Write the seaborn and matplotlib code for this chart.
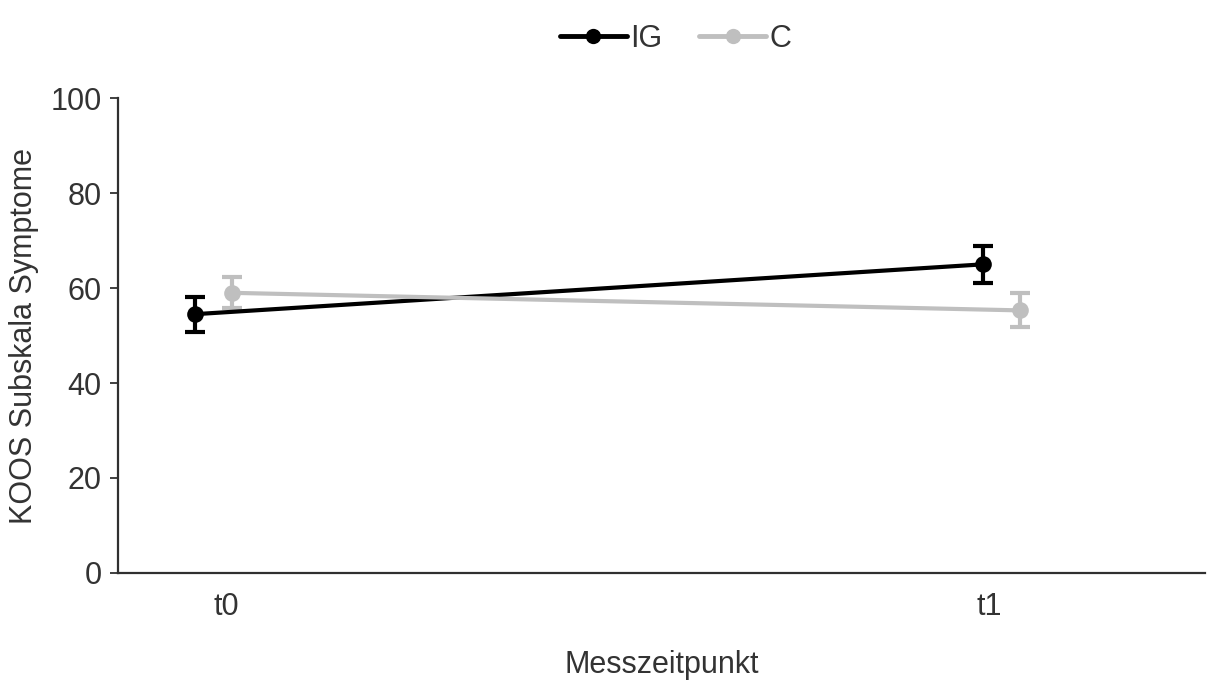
import matplotlib
matplotlib.use("Agg")
import matplotlib.pyplot as plt
import seaborn as sns
import pandas as pd
import numpy as np
from matplotlib.lines import Line2D

# Data
timepoints = ["t0", "t1"]
groups = ["IG", "C"]
ig_means = [54.5, 65.0]
ig_err = [3.7, 3.9]
c_means = [59.0, 55.3]
c_err = [3.3, 3.6]

sns.set_theme(style="white")
plt.rcParams["font.family"] = ["Liberation Sans", "DejaVu Sans"]

txt = "#333333"
colors = {"IG": "#000000", "C": "#bfbfbf"}
offsets = {"IG": -0.0235, "C": 0.0235}

rows = []
for g, means, errs in [("IG", ig_means, ig_err), ("C", c_means, c_err)]:
    for i, (m, e) in enumerate(zip(means, errs)):
        rows.append({"group": g, "tp": timepoints[i], "x": i + offsets[g], "mean": m, "err": e})
df = pd.DataFrame(rows)

fig = plt.figure(figsize=(12.17, 6.82), dpi=100)
ax = fig.add_axes([0.097, 0.160, 0.893, 0.696])

sns.lineplot(data=df, x="x", y="mean", hue="group", hue_order=groups,
             palette=colors, marker="o", markersize=12, markeredgewidth=0,
             linewidth=3.0, ax=ax, legend=False, sort=True, zorder=3)
for g in groups:
    sub = df[df.group == g]
    ax.errorbar(sub["x"], sub["mean"], yerr=sub["err"], fmt="none",
                ecolor=colors[g], elinewidth=3.0, capsize=7, capthick=3.0,
                zorder=2 if g == "C" else 4)

ax.set_xlim(-0.121, 1.258)
ax.set_ylim(0, 100)
ax.set_xticks([0.016, 0.985])
ax.set_xticklabels(timepoints)
ax.set_yticks([0, 20, 40, 60, 80, 100])
ax.tick_params(axis="y", length=6, width=1.4, color="#404040", direction="out", left=True,
               labelsize=22, labelcolor=txt, pad=6)
ax.tick_params(axis="x", length=0, labelsize=22, labelcolor=txt, pad=14)
for s in ["top", "right"]:
    ax.spines[s].set_visible(False)
for s in ["left", "bottom"]:
    ax.spines[s].set_color("#303030")
    ax.spines[s].set_linewidth(1.6)

ax.set_xlabel("Messzeitpunkt", fontsize=22, color=txt, labelpad=20)
ax.set_ylabel("KOOS Subskala Symptome", fontsize=22, color=txt, labelpad=8)

handles = [Line2D([0], [0], color=colors[g], marker="o", markersize=11, linewidth=3.5, markeredgewidth=0)
           for g in groups]
fig.legend(handles, groups, loc="upper center", bbox_to_anchor=(0.555, 1.005), ncol=2,
           frameon=False, fontsize=22, labelcolor=txt, handlelength=2.2,
           handletextpad=0.1, columnspacing=1.2)

fig.savefig("out.png", dpi=100)
